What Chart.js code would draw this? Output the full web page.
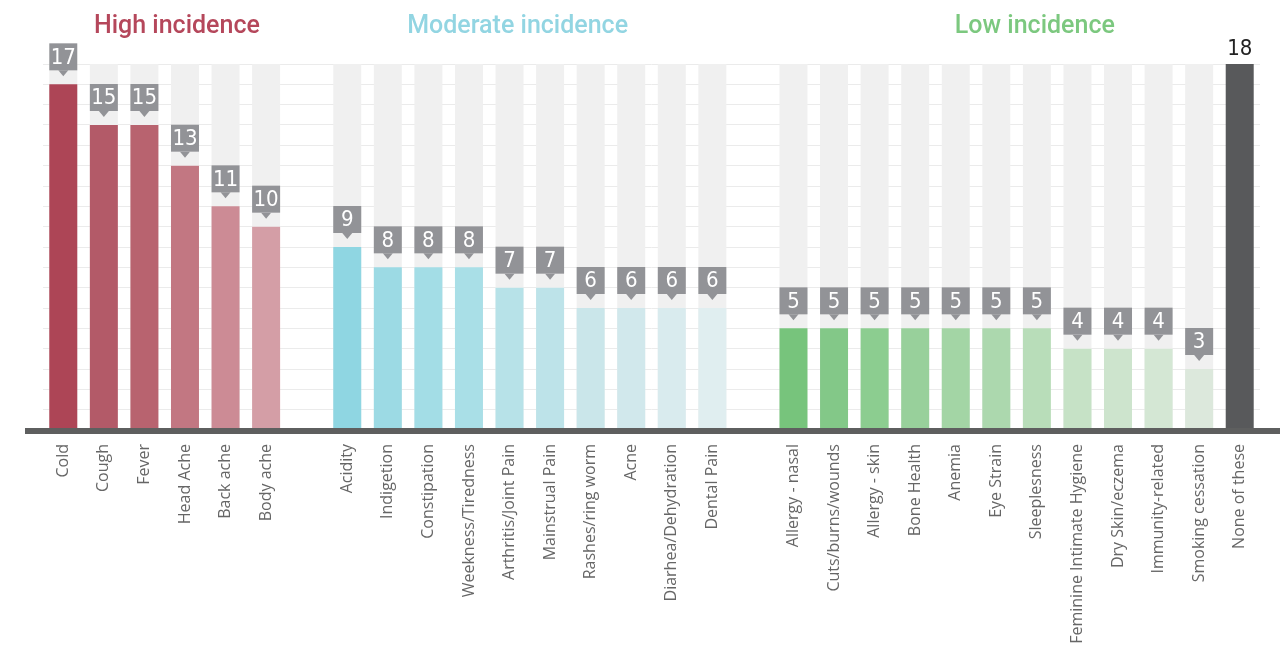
<!DOCTYPE html>
<html>
<head>
<meta charset="utf-8">
<script src="https://cdn.jsdelivr.net/npm/chart.js@4"></script>
<style>
  html, body { margin: 0; padding: 0; background: #fff; }
  #wrap { width: 1287px; height: 652px; position: relative; }
</style>
</head>
<body>
<div id="wrap"><canvas id="myChart"></canvas></div>
<script>
// groups of the chart
const highLabels = ['Cold', 'Cough', 'Fever', 'Head Ache', 'Back ache', 'Body ache'];
const highValues = [17, 15, 15, 13, 11, 10];
const highColors = ['#ad4556', '#b35a68', '#b8636f', '#c27782', '#cc8b95', '#d49ea6'];

const moderateLabels = ['Acidity', 'Indigetion', 'Constipation', 'Weekness/Tiredness', 'Arthritis/Joint Pain',
  'Mainstrual Pain', 'Rashes/ring worm', 'Acne', 'Diarhea/Dehydration', 'Dental Pain'];
const moderateValues = [9, 8, 8, 8, 7, 7, 6, 6, 6, 6];
const moderateColors = ['#8fd6e2', '#9cdae4', '#a3dde6', '#a9dfe7', '#b7e2e8', '#bde3e9', '#cae6ea', '#d1e8ec', '#d9ebee', '#e0eef0'];

const lowLabels = ['Allergy - nasal', 'Cuts/burns/wounds', 'Allergy - skin', 'Bone Health', 'Anemia', 'Eye Strain',
  'Sleeplesness', 'Feminine Intimate Hygiene', 'Dry Skin/eczema', 'Immunity-related', 'Smoking cessation'];
const lowValues = [5, 5, 5, 5, 5, 5, 5, 4, 4, 4, 3];
const lowColors = ['#77c47c', '#83c888', '#8ccd90', '#98d09b', '#a3d5a5', '#acd8ae', '#b8ddb9', '#c6e2c6', '#cde4cd', '#d4e7d4', '#dce8dc'];

const noneLabels = ['None of these'];
const noneValues = [18];
const noneColors = ['#58595b'];

const maxValue = 18;

// titles: text, colour, category index (fractional) where the title is centred
const groupTitles = [
  { text: 'High incidence', color: '#b5475b', at: 2.8 },
  { text: 'Moderate incidence', color: '#92d5e2', at: 11.2 },
  { text: 'Low incidence', color: '#7cc87f', at: 23.95 }
];

// one empty slot between groups
const labels = [...highLabels, '', ...moderateLabels, '', ...lowLabels, ...noneLabels];
const values = [...highValues, null, ...moderateValues, null, ...lowValues, ...noneValues];
const colors = [...highColors, null, ...moderateColors, null, ...lowColors, ...noneColors];
const track = values.map((v, i) => (v === null || i === values.length - 1) ? null : maxValue);

const numFont = '"Liberation Sans Narrow", "DejaVu Sans Condensed", sans-serif';

// value boxes with a little pointer, and the axis band
const decor = {
  id: 'decor',
  afterDatasetsDraw(chart) {
    const ctx = chart.ctx;
    const area = chart.chartArea;
    ctx.save();
    ctx.fillStyle = '#5e5f5f';
    ctx.fillRect(area.left - 18, area.bottom - 2, area.width + 38, 6);

    const meta = chart.getDatasetMeta(1);
    meta.data.forEach((bar, i) => {
      const v = values[i];
      if (v === null) return;
      const w = bar.width;
      const left = bar.x - w / 2;
      ctx.textAlign = 'center';
      ctx.textBaseline = 'middle';
      ctx.font = '22px ' + numFont;
      if (i === values.length - 1) {
        ctx.fillStyle = '#222';
        ctx.fillText(String(v), bar.x, bar.y - 15);
        return;
      }
      const boxBottom = bar.y - 14;
      const boxH = 27;
      ctx.fillStyle = '#929397';
      ctx.fillRect(left, boxBottom - boxH, w, boxH);
      ctx.beginPath();
      ctx.moveTo(bar.x - 5, boxBottom);
      ctx.lineTo(bar.x + 5, boxBottom);
      ctx.lineTo(bar.x, boxBottom + 6);
      ctx.closePath();
      ctx.fill();
      ctx.fillStyle = '#fff';
      ctx.fillText(String(v), bar.x, boxBottom - boxH / 2 + 1);
    });

    const x = chart.scales.x;
    ctx.font = '500 25px Roboto, sans-serif';
    ctx.textBaseline = 'middle';
    ctx.textAlign = 'center';
    groupTitles.forEach(t => {
      ctx.fillStyle = t.color;
      ctx.fillText(t.text, x.getPixelForValue(t.at), 27);
    });
    ctx.restore();
  }
};

function draw() {
  let ctx = document.getElementById('myChart').getContext('2d');
  let chart = new Chart(ctx, {
    type: 'bar',
    data: {
      labels: labels,
      datasets: [{
        label: 'track',
        data: track,
        backgroundColor: '#f0f0f0',
        barPercentage: 0.69,
        categoryPercentage: 1,
        grouped: false,
        order: 2
      }, {
        label: 'Incidence',
        data: values,
        backgroundColor: colors,
        barPercentage: 0.69,
        categoryPercentage: 1,
        grouped: false,
        order: 1
      }]
    },
    options: {
      responsive: true,
      maintainAspectRatio: false,
      animation: false,
      layout: { padding: { top: 64, left: 43, right: 27, bottom: 0 } },
      plugins: {
        legend: { display: false },
        tooltip: { enabled: false }
      },
      scales: {
        x: {
          grid: { display: false, drawTicks: false },
          border: { display: false },
          ticks: {
            autoSkip: false,
            maxRotation: 90,
            minRotation: 90,
            padding: 14,
            color: '#666',
            font: { family: '"Open Sans", sans-serif', size: 16 }
          },
          afterFit: s => { s.height = 222; }
        },
        y: {
          min: 0,
          max: maxValue,
          ticks: { display: false, stepSize: 1 },
          border: { display: false },
          grid: { color: '#ebebeb', drawTicks: false },
          afterFit: s => { s.width = 0; }
        }
      }
    },
    plugins: [decor]
  });
}

Promise.all([
  document.fonts.load('16px "Open Sans"'),
  document.fonts.load('500 25px Roboto'),
  document.fonts.load('22px "Liberation Sans Narrow"')
]).then(draw, draw);
</script>
</body>
</html>
